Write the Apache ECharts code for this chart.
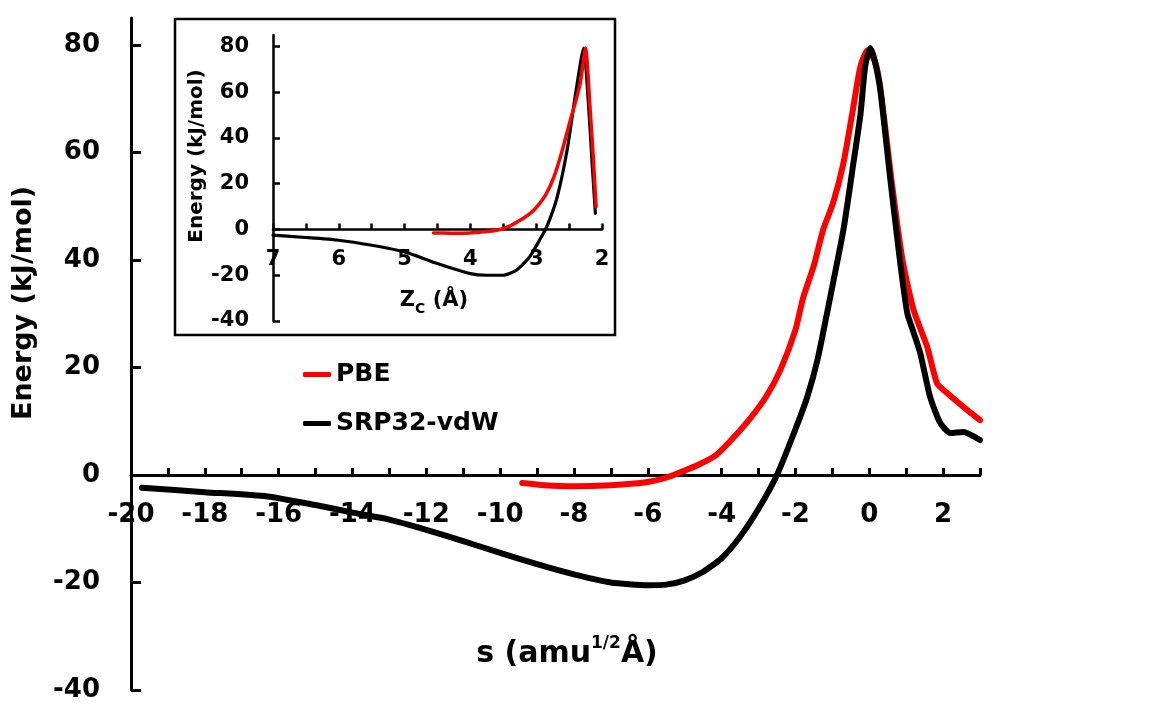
<!DOCTYPE html>
<html>
<head>
<meta charset="UTF-8">
<title>Energy profile</title>
<script src="https://cdn.jsdelivr.net/npm/echarts@6/dist/echarts.min.js"></script>
<style>
  html, body { margin: 0; padding: 0; background: #fff; }
  #main { width: 1152px; height: 705px; }
</style>
</head>
<body>
<div id="main"></div>
<script>
// main panel: energy along the reaction path s
var sPBE = [-9.4, -8.8, -8.0, -7.0, -6.0, -5.5, -5.15, -4.6, -4.15, -3.74, -3.23, -2.8, -2.41, -2.0, -1.79, -1.5, -1.25, -0.98, -0.7, -0.46, -0.24, -0.05, 0.15, 0.3, 0.6, 0.9, 1.2, 1.57, 1.84, 2.1, 2.65, 3.0];
var ePBE = [-1.5, -1.9, -2.1, -1.9, -1.3, -0.5, 0.4, 2.0, 3.7, 6.5, 10.5, 14.5, 19.5, 27, 33, 39, 45.6, 50.6, 58, 67.3, 76, 79, 77, 72, 55, 40, 30.7, 23.8, 17, 15.3, 12.1, 10.2];
var sSRP = [-19.7, -18, -16.3, -15, -14, -13, -12, -11, -10, -9, -8, -7, -6, -5.5, -5, -4.5, -4, -3.5, -3, -2.5, -2, -1.68, -1.4, -1.06, -0.7, -0.43, -0.24, -0.11, 0.03, 0.15, 0.3, 0.57, 0.84, 1.03, 1.2, 1.38, 1.65, 1.92, 2.2, 2.55, 3.0];
var eSRP = [-2.4, -3.2, -4.0, -5.6, -7.0, -8.3, -10.2, -12.3, -14.5, -16.6, -18.5, -20.0, -20.5, -20.4, -19.6, -18.0, -15.5, -11.5, -6.3, 0, 8.5, 14.5, 21.5, 33, 45.6, 58, 67, 76, 79.4, 77, 71.6, 55, 39.4, 30.1, 26.5, 22.7, 14.5, 9.7, 7.8, 8.0, 6.5];

// inset: energy vs Zc
var zPBE = [4.56, 4.3, 4.0, 3.8, 3.6, 3.4, 3.24, 3.1, 2.99, 2.85, 2.73, 2.6, 2.48, 2.4, 2.33, 2.25, 2.18, 2.13, 2.09];
var ezPBE = [-1.5, -1.6, -1.5, -1.0, -0.3, 1.5, 4.1, 6.8, 9.9, 15.5, 23, 35, 47.9, 56, 64, 79.3, 52.3, 30.4, 9.9];
var zSRP = [7.0, 6.5, 6.0, 5.5, 5.0, 4.5, 4.0, 3.75, 3.5, 3.3, 3.1, 2.95, 2.84, 2.68, 2.53, 2.4, 2.28, 2.2, 2.15, 2.1];
var ezSRP = [-2.5, -3.5, -4.7, -6.9, -9.8, -14.9, -19.3, -20.0, -20.0, -17.8, -12, -4.7, 1.1, 14.3, 34.7, 59.6, 79.3, 52.3, 28.9, 7];

var yTicks = [-40, -20, 0, 20, 40, 60, 80];
var seriesNames = ['PBE', 'SRP32-vdW'];
var colors = ['#ff0000', '#000000'];

function pairs(xs, ys) {
  return xs.map(function (x, i) { return [x, ys[i]]; });
}

var FONT = 'DejaVu Sans';
var chart = echarts.init(document.getElementById('main'));

function axisBase(w) {
  return {
    axisLine: { onZero: false, lineStyle: { color: '#000', width: w } },
    axisTick: { inside: true, lineStyle: { color: '#000', width: w } },
    splitLine: { show: false }
  };
}

// the x axes sit on E = 0: shift them up from the bottom of each grid
var mainGrid = { left: 131, top: 18, width: 849, height: 672 };
var insetGrid = { left: 273, top: 35, width: 329, height: 286 };
var mainZeroOffset = -mainGrid.height * 40 / 125;
var insetZeroOffset = -insetGrid.height * 40 / 125;

var option = {
  animation: false,
  backgroundColor: '#fff',
  grid: [
    echarts.util.merge({ outerBoundsMode: 'none' }, mainGrid),
    echarts.util.merge({ outerBoundsMode: 'none' }, insetGrid)
  ],
  xAxis: [
    echarts.util.merge(axisBase(3), {
      type: 'value', gridIndex: 0, min: -20, max: 3, interval: 1,
      position: 'bottom', offset: mainZeroOffset,
      axisTick: { length: 7 },
      axisLabel: {
        margin: 27, color: '#000', fontFamily: FONT, fontWeight: 'bold', fontSize: 26,
        formatter: function (v) { return v % 2 === 0 ? String(v) : ''; }
      }
    }),
    echarts.util.merge(axisBase(2.5), {
      type: 'value', gridIndex: 1, min: 2, max: 7, interval: 0.5, inverse: true,
      position: 'bottom', offset: insetZeroOffset,
      axisTick: { length: 6 },
      axisLabel: {
        margin: 20, color: '#000', fontFamily: FONT, fontWeight: 'bold', fontSize: 21,
        formatter: function (v) { return v % 1 === 0 ? String(v) : ''; }
      }
    })
  ],
  yAxis: [
    echarts.util.merge(axisBase(3), {
      type: 'value', gridIndex: 0, min: -40, max: 85,
      axisTick: { length: 10, customValues: yTicks },
      axisLabel: {
        customValues: yTicks, margin: 31, color: '#000',
        fontFamily: FONT, fontWeight: 'bold', fontSize: 26
      }
    }),
    echarts.util.merge(axisBase(2.5), {
      type: 'value', gridIndex: 1, min: -40, max: 85,
      axisTick: { length: 7, customValues: yTicks },
      axisLabel: {
        customValues: yTicks, margin: 24, color: '#000',
        fontFamily: FONT, fontWeight: 'bold', fontSize: 21
      }
    })
  ],
  legend: {
    data: seriesNames,
    orient: 'vertical',
    left: 298, top: 357,
    icon: 'roundRect',
    itemWidth: 28, itemHeight: 5,
    itemGap: 24,
    textStyle: { color: '#000', fontFamily: FONT, fontWeight: 'bold', fontSize: 25 }
  },
  series: [
    {
      name: seriesNames[0], type: 'line', xAxisIndex: 0, yAxisIndex: 0,
      data: pairs(sPBE, ePBE), showSymbol: false, smooth: 0.2,
      lineStyle: { color: colors[0], width: 6, cap: 'round', join: 'round' },
      itemStyle: { color: colors[0] }
    },
    {
      name: seriesNames[1], type: 'line', xAxisIndex: 0, yAxisIndex: 0,
      data: pairs(sSRP, eSRP), showSymbol: false, smooth: 0.2,
      lineStyle: { color: colors[1], width: 6, cap: 'round', join: 'round' },
      itemStyle: { color: colors[1] }
    },
    {
      name: seriesNames[1], type: 'line', xAxisIndex: 1, yAxisIndex: 1,
      data: pairs(zSRP, ezSRP), showSymbol: false, smooth: 0.2,
      lineStyle: { color: colors[1], width: 3.2, cap: 'round', join: 'round' },
      itemStyle: { color: colors[1] }
    },
    {
      name: seriesNames[0], type: 'line', xAxisIndex: 1, yAxisIndex: 1,
      data: pairs(zPBE, ezPBE), showSymbol: false, smooth: 0.2,
      lineStyle: { color: colors[0], width: 3.5, cap: 'round', join: 'round' },
      itemStyle: { color: colors[0] }
    }
  ],
  graphic: [
    {
      type: 'rect', shape: { x: 175, y: 19, width: 440, height: 316 },
      style: { fill: 'transparent', stroke: '#000', lineWidth: 2.5 }, z: 1
    },
    {
      type: 'text', x: 24, y: 303, rotation: Math.PI / 2,
      style: {
        text: 'Energy (kJ/mol)', fill: '#000', font: 'bold 27px "DejaVu Sans"',
        textAlign: 'center', textVerticalAlign: 'middle'
      }
    },
    {
      type: 'text', x: 197, y: 156, rotation: Math.PI / 2,
      style: {
        text: 'Energy (kJ/mol)', fill: '#000', font: 'bold 20px "DejaVu Sans"',
        textAlign: 'center', textVerticalAlign: 'middle'
      }
    },
    {
      type: 'text', x: 567, y: 652,
      style: {
        text: '{a|s (amu}{b|1/2}{a|Å)}',
        textAlign: 'center', textVerticalAlign: 'middle',
        rich: {
          a: { fontFamily: FONT, fontWeight: 'bold', fontSize: 30, color: '#000', verticalAlign: 'bottom', lineHeight: 34 },
          b: { fontFamily: FONT, fontWeight: 'bold', fontSize: 17, color: '#000', verticalAlign: 'top', lineHeight: 20 }
        }
      }
    },
    {
      type: 'text', x: 434, y: 303,
      style: {
        text: '{a|Z}{b|C}{a| (Å)}',
        textAlign: 'center', textVerticalAlign: 'middle',
        rich: {
          a: { fontFamily: FONT, fontWeight: 'bold', fontSize: 21, color: '#000', verticalAlign: 'top', lineHeight: 26 },
          b: { fontFamily: FONT, fontWeight: 'bold', fontSize: 14, color: '#000', verticalAlign: 'bottom', lineHeight: 16 }
        }
      }
    }
  ]
};

chart.setOption(option);
</script>
</body>
</html>
